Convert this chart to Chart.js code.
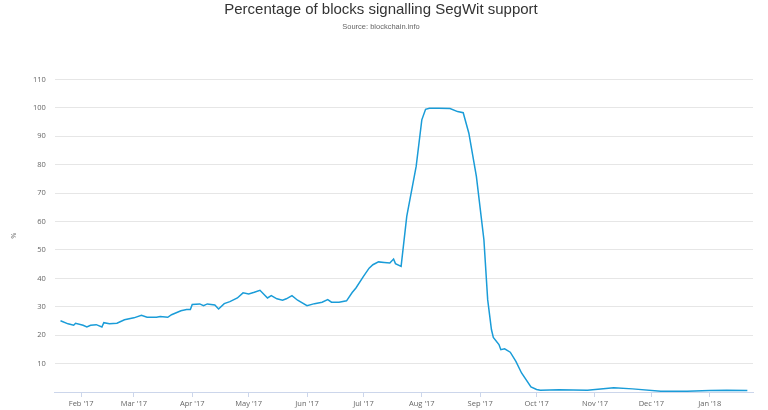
<!DOCTYPE html>
<html>
<head>
<meta charset="utf-8">
<script src="https://cdn.jsdelivr.net/npm/chart.js@4/dist/chart.umd.min.js"></script>
<style>
    html, body { margin: 0; padding: 0; background: white; }
    #wrap { width: 768px; height: 410px; }
</style>
</head>
<body>
<div id="wrap"><canvas id="segwitChart"></canvas></div>
<script>

// Data (share of blocks signalling SegWit, %)

var dates = [
    '2017-01-21', '2017-01-25', '2017-01-28', '2017-01-29', '2017-02-02',
    '2017-02-04', '2017-02-06', '2017-02-09', '2017-02-12', '2017-02-13',
    '2017-02-16', '2017-02-20', '2017-02-24', '2017-03-01', '2017-03-05',
    '2017-03-08', '2017-03-13', '2017-03-15', '2017-03-19', '2017-03-21',
    '2017-03-26', '2017-03-29', '2017-03-31', '2017-04-01', '2017-04-05',
    '2017-04-07', '2017-04-09', '2017-04-13', '2017-04-15', '2017-04-18',
    '2017-04-21', '2017-04-25', '2017-04-28', '2017-05-01', '2017-05-04',
    '2017-05-07', '2017-05-11', '2017-05-13', '2017-05-16', '2017-05-19',
    '2017-05-21', '2017-05-24', '2017-05-27', '2017-06-01', '2017-06-05',
    '2017-06-09', '2017-06-12', '2017-06-14', '2017-06-18', '2017-06-22',
    '2017-06-25', '2017-06-27', '2017-07-01', '2017-07-04', '2017-07-06',
    '2017-07-09', '2017-07-12', '2017-07-15', '2017-07-17', '2017-07-18',
    '2017-07-21', '2017-07-22', '2017-07-24', '2017-07-29', '2017-08-01',
    '2017-08-03', '2017-08-05', '2017-08-10', '2017-08-16', '2017-08-20',
    '2017-08-23', '2017-08-26', '2017-08-30', '2017-09-03', '2017-09-05',
    '2017-09-07', '2017-09-08', '2017-09-11', '2017-09-12', '2017-09-14',
    '2017-09-17', '2017-09-20', '2017-09-23', '2017-09-28', '2017-10-01',
    '2017-10-03', '2017-10-13', '2017-10-28', '2017-11-11', '2017-11-21',
    '2017-12-06', '2017-12-20', '2018-01-01', '2018-01-10', '2018-01-21'];

var segwit_pct = [
    25.1, 24.0, 23.5, 24.2, 23.5,
    22.9, 23.5, 23.7, 22.9, 24.4,
    24.0, 24.2, 25.4, 26.1, 27.0,
    26.3, 26.3, 26.6, 26.3, 27.2,
    28.6, 29.0, 29.0, 30.8, 31.0,
    30.4, 31.0, 30.6, 29.2, 31.1,
    31.8, 33.1, 34.9, 34.5, 35.1,
    35.8, 33.1, 33.9, 32.8, 32.3,
    32.8, 33.9, 32.3, 30.4, 31.1,
    31.6, 32.5, 31.6, 31.6, 32.1,
    35.0, 36.6, 40.7, 43.6, 44.8,
    45.8, 45.6, 45.4, 46.8, 45.2,
    44.2, 50.1, 61.8, 79.4, 95.8,
    99.5, 99.9, 99.9, 99.8, 98.7,
    98.3, 91.1, 75.9, 53.6, 32.5,
    22.0, 19.2, 16.7, 14.9, 15.2,
    14.0, 10.8, 6.7, 1.8, 0.9,
    0.6, 0.8, 0.6, 1.5, 1.1,
    0.3, 0.3, 0.5, 0.6, 0.5];

var month_ticks = [
    '2017-02-01', '2017-03-01', '2017-04-01', '2017-05-01', '2017-06-01',
    '2017-07-01', '2017-08-01', '2017-09-01', '2017-10-01', '2017-11-01',
    '2017-12-01', '2018-01-01'];

var month_labels = [
    "Feb '17", "Mar '17", "Apr '17", "May '17", "Jun '17", "Jul '17",
    "Aug '17", "Sep '17", "Oct '17", "Nov '17", "Dec '17", "Jan '18"];

var y_ticks = [0, 10, 20, 30, 40, 50, 60, 70, 80, 90, 100, 110];


// day number counted from 1 Jan 2017
function day_of(s) {
    var p = s.split('-');
    return (Date.UTC(+p[0], +p[1] - 1, +p[2]) - Date.UTC(2017, 0, 1)) / 864e5;
}


function segwit_chart() {

    var points = [];
    for (var i = 0; i < dates.length; i++) {
        points.push({x: day_of(dates[i]), y: segwit_pct[i]});}

    var tick_days = month_ticks.map(day_of);

    var ctx = document.getElementById('segwitChart').getContext('2d');

    new Chart(ctx, {
        type: 'line',

        data: {
            datasets: [{
                label: '%',
                data: points,
                borderColor: '#1a9cd8',
                borderWidth: 1.5,
                pointRadius: 0,
                tension: 0,
                fill: false,},],},

        options: {
            responsive: true,
            maintainAspectRatio: false,
            animation: false,
            layout: {padding: {left: 9, right: 15, top: 0, bottom: 0}},

            scales: {
                x: {
                    type: 'linear',
                    min: 17,
                    max: 388,
                    afterBuildTicks: function(scale) {
                        scale.ticks = tick_days.map(function(d) { return {value: d}; });},
                    border: {display: true, color: '#ccd6eb', width: 1},
                    grid: {
                        drawOnChartArea: false,
                        drawTicks: true,
                        tickLength: 5,
                        color: '#ccd6eb',},
                    ticks: {
                        autoSkip: false,
                        maxRotation: 0,
                        padding: 2,
                        color: '#666666',
                        font: {family: "'Open Sans', sans-serif", size: 7.5},
                        callback: function(value, index) {
                            return month_labels[index];},},},
                y: {
                    min: 0,
                    max: 110,
                    afterBuildTicks: function(scale) {
                        scale.ticks = y_ticks.map(function(v) { return {value: v}; });},
                    border: {display: false},
                    grid: {color: '#e6e6e6', drawTicks: false},
                    title: {
                        display: true,
                        text: '%',
                        color: '#666666',
                        padding: {top: 0, bottom: 6},
                        font: {family: "'Open Sans', sans-serif", size: 7.5},},
                    ticks: {
                        padding: 9,
                        color: '#666666',
                        font: {family: "'Open Sans', sans-serif", size: 7.5},
                        callback: function(value) {
                            return value == 0 ? '' : value;},},},
            },

            plugins: {
                legend: {display: false},
                tooltip: {enabled: false},

                title: {
                    display: true,
                    text: 'Percentage of blocks signalling SegWit support',
                    color: '#333333',
                    padding: {top: 1, bottom: 0},
                    font: {family: "'Liberation Sans', Arial, sans-serif", size: 15, weight: 'normal'},},

                subtitle: {
                    display: true,
                    text: 'Source: blockchain.info',
                    color: '#666666',
                    padding: {top: 3.5, bottom: 48},
                    font: {family: "'Liberation Sans', Arial, sans-serif", size: 7.5},},},
        },});
}

segwit_chart();

</script>
</body>
</html>
